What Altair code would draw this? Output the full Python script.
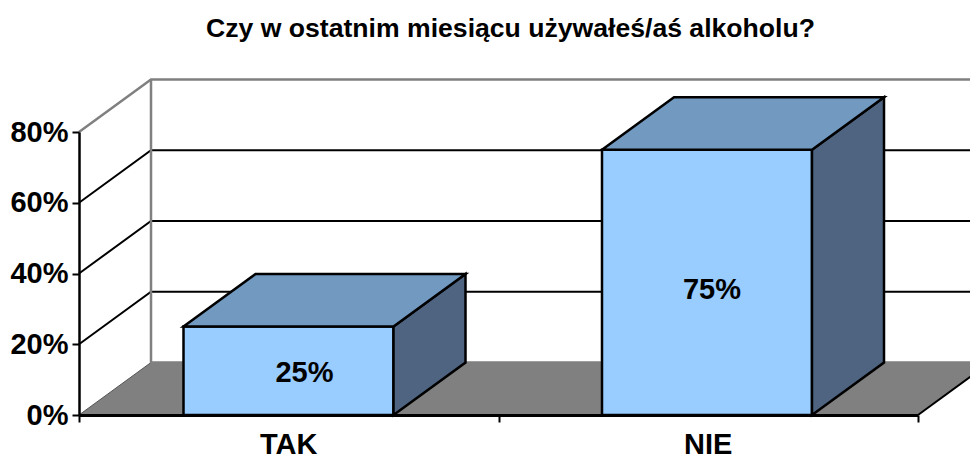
import altair as alt
import pandas as pd

categories = ["TAK", "NIE"]
values = [25, 75]
value_labels = ["25%", "75%"]
y_ticks = [0, 20, 40, 60, 80]
grid_levels = [20, 40, 60]
title_text = "Czy w ostatnim miesiącu używałeś/aś alkoholu?"

# layout constants (data units)
DX, DY = 72 / 419.5, 52.5 / 3.5375
BAR_W = 210 / 419.5
FAR = 2 + DX
BAR_LEFT = [(183.5 - 79) / 419.5, (602 - 79) / 419.5]
FONT = "Liberation Sans"

sx = alt.Scale(domain=[0, 2], nice=False, zero=False)
sy = alt.Scale(domain=[0, 80], nice=False, zero=False)
X = alt.X("x:Q", scale=sx, title=None,
          axis=alt.Axis(values=[0, 1, 2], labels=False, grid=False, domainColor="black", domainWidth=3,
                        tickColor="black", tickWidth=2, tickSize=7, title=None, zindex=1))
Y = alt.Y("y:Q", scale=sy, title=None,
          axis=alt.Axis(values=y_ticks, format=".0f", labelExpr="datum.value + '%'", grid=False, domainColor="black",
                        domainWidth=2.5, tickColor="black", tickWidth=2, tickSize=7, labelFont=FONT,
                        labelFontWeight="bold", labelFontSize=29, labelColor="black", labelPadding=4, title=None,
                        zindex=1))


def line(rows, color, width):
    d = pd.DataFrame(rows)
    return alt.Chart(d).mark_line(color=color, strokeWidth=width, clip=False).encode(
        x=X, y=Y, detail="g:N", order="o:Q")


def hface(rows, fill, stroke, width):
    d = pd.DataFrame(rows)
    return alt.Chart(d).mark_area(orient="horizontal", fill=fill, stroke=stroke, strokeWidth=width,
                                  strokeJoin="miter", opacity=1).encode(
        x=X, x2=alt.X2("x1:Q"), y=Y, detail="g:N")


def vface(rows, fill, stroke, width):
    d = pd.DataFrame(rows)
    return alt.Chart(d).mark_area(orient="vertical", fill=fill, stroke=stroke, strokeWidth=width,
                                  strokeJoin="miter", opacity=1).encode(
        x=X, y=Y, y2=alt.Y2("y1:Q"), detail="g:N")


# walls
grid_rows = []
for v in grid_levels:
    grid_rows += [{"x": 0, "y": v, "g": v, "o": 0}, {"x": DX, "y": v + DY, "g": v, "o": 1},
                  {"x": FAR, "y": v + DY, "g": v, "o": 2}]
grid = line(grid_rows, "black", 2)
wall = line([{"x": 0, "y": 80, "g": 0, "o": 0}, {"x": DX, "y": 80 + DY, "g": 0, "o": 1},
             {"x": FAR, "y": 80 + DY, "g": 0, "o": 2},
             {"x": DX, "y": 80 + DY, "g": 1, "o": 0}, {"x": DX, "y": DY, "g": 1, "o": 1},
             {"x": FAR, "y": DY, "g": 1, "o": 2}], "#808080", 2.5)
floor = hface([{"x": 0, "x1": 2, "y": 0, "g": 0}, {"x": DX, "x1": FAR, "y": DY, "g": 0}],
              "#808080", "#555555", 1)
floor_edge = line([{"x": 2, "y": 0, "g": 0, "o": 0}, {"x": FAR, "y": DY, "g": 0, "o": 1}], "black", 2)

# bars
bars = []
for left, v in zip(BAR_LEFT, values):
    right = left + BAR_W
    bars.append(vface([{"x": left, "y": 0, "y1": v, "g": 0}, {"x": right, "y": 0, "y1": v, "g": 0}],
                      "#99CCFF", "black", 2.5))
    bars.append(vface([{"x": right, "y": 0, "y1": v, "g": 0}, {"x": right + DX, "y": DY, "y1": v + DY, "g": 0}],
                      "#4F6480", "black", 2.5))
    bars.append(hface([{"x": left, "x1": right, "y": v, "g": 0},
                       {"x": left + DX, "x1": right + DX, "y": v + DY, "g": 0}],
                      "#7299C0", "black", 2.5))

# text
label_df = pd.DataFrame({"x": [l + BAR_W / 2 for l in BAR_LEFT], "y": [v / 2 for v in values], "t": value_labels})
label_df["x"] += [16 / 419.5, 5 / 419.5]
label_df["y"] += [-0.7, -2.2]
val_text = alt.Chart(label_df).mark_text(font=FONT, fontWeight="bold", fontSize=29, color="black",
                                         baseline="middle").encode(x=X, y=Y, text="t:N")
cat_df = pd.DataFrame({"x": [0.5, 1.5], "y": [0, 0], "t": categories})
cat_text = alt.Chart(cat_df).mark_text(font=FONT, fontWeight="bold", fontSize=29, color="black",
                                       baseline="middle", dy=30).encode(x=X, y=Y, text="t:N")

chart = alt.layer(floor, grid, wall, floor_edge, *bars, val_text, cat_text).properties(
    width=839, height=283,
    padding={"left": 71, "top": 124, "right": 52, "bottom": 41},
    autosize=alt.AutoSizeParams(type="none"),
    title=alt.TitleParams(title_text, font=FONT, fontWeight="bold", fontSize=26.6, color="black",
                          anchor="middle", dx=12, offset=11, baseline="alphabetic"),
).configure_view(stroke=None)

chart.save("out.html", embed_options={"renderer": "svg", "actions": False})
